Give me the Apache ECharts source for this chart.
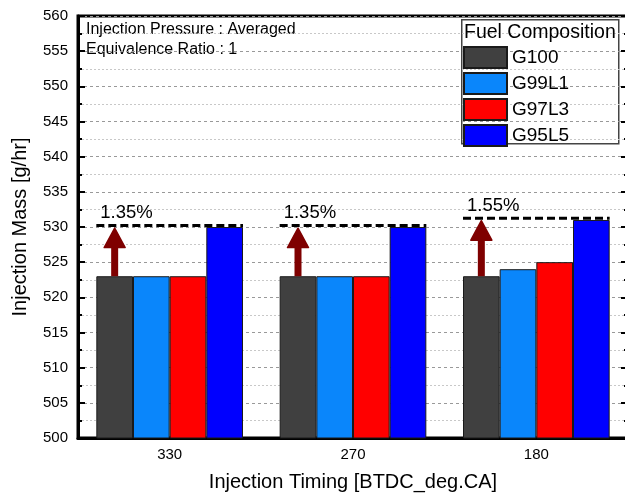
<!DOCTYPE html>
<html>
<head>
<meta charset="utf-8">
<script src="https://cdn.jsdelivr.net/npm/echarts@6/dist/echarts.min.js"></script>
<style>
  html, body { margin: 0; padding: 0; background: #fff; }
  #chart { width: 625px; height: 493px; }
</style>
</head>
<body>
<div id="chart"></div>
<script>
// Injection timing categories (BTDC, deg CA)
const categories = ['330', '270', '180'];

// Injection mass per fuel blend [g/hr]
const g100 = [523, 523, 523];
const g99l1 = [523, 523, 524];
const g97l3 = [523, 523, 525];
const g95l5 = [530, 530, 531];

// Increase of G95L5 relative to G100 [%]
const increasePct = [1.35, 1.35, 1.55];

// Y axis range and tick step
const yMin = 500, yMax = 560, yStep = 5;

const FONT = 'Liberation Sans, Arial, sans-serif';

const seriesNames = ['G100', 'G99L1', 'G97L3', 'G95L5'];
const seriesData = [g100, g99l1, g97l3, g95l5];
const seriesColors = ['#404040', '#0a86fb', '#ff0000', '#0000ff'];

const chart = echarts.init(document.getElementById('chart'), null, { renderer: 'canvas' });

const bars = seriesNames.map((name, k) => ({
  name: name,
  type: 'bar',
  data: seriesData[k],
  barGap: '0%',
  barCategoryGap: '20%',
  itemStyle: { color: seriesColors[k], borderColor: '#1a1a1a', borderWidth: 1 },
  z: 2
}));

// Arrow from G100 bar top to the increased level, with dashed reference line and % label
const arrowData = categories.map((c, i) => [i, g100[i], g100[i] * (1 + increasePct[i] / 100), increasePct[i]]);

const arrowSeries = {
  type: 'custom',
  name: 'increase',
  data: arrowData,
  encode: { x: 0, y: 2 },
  z: 5,
  clip: false,
  silent: true,
  renderItem: function (params, api) {
    const idx = api.value(0);
    const base = api.value(1);
    const target = api.value(2);
    const pct = api.value(3);
    const band = api.size([1, 0])[0];
    const pBase = api.coord([idx, base]);
    const pTop = api.coord([idx, target]);
    const groupLeft = pBase[0] - band * 0.4;
    const barW = band * 0.2;
    const ax = groupLeft + barW / 2;
    const headH = 21, headHalf = 10.5, shaftHalf = 3.5;
    const color = '#7f0000';
    return {
      type: 'group',
      children: [
        {
          type: 'rect',
          shape: { x: ax - shaftHalf, y: pTop[1] + headH - 1, width: shaftHalf * 2, height: pBase[1] - (pTop[1] + headH - 1) },
          style: { fill: color }
        },
        {
          type: 'polygon',
          shape: { points: [[ax - headHalf, pTop[1] + headH], [ax + headHalf, pTop[1] + headH], [ax, pTop[1] + 1.5]] },
          style: { fill: color, stroke: color, lineWidth: 1.5, lineJoin: 'round' }
        },
        {
          type: 'line',
          shape: { x1: groupLeft, y1: pTop[1] - 1, x2: groupLeft + barW * 4, y2: pTop[1] - 1 },
          style: { stroke: '#000', lineWidth: 3, lineDash: [8, 4] }
        },
        {
          type: 'text',
          style: {
            x: groupLeft + 4, y: pTop[1] - 4,
            text: pct.toFixed(2) + '%',
            font: '18.5px ' + FONT,
            fill: '#000',
            textAlign: 'left',
            textVerticalAlign: 'bottom'
          }
        }
      ]
    };
  }
};

const option = {
  animation: false,
  backgroundColor: '#fff',
  grid: {
    left: 78, top: 16, width: 550, height: 422,
    outerBoundsMode: 'none',
    containLabel: false,
    show: true, borderColor: '#000', borderWidth: 3, backgroundColor: 'transparent'
  },
  legend: {
    data: seriesNames,
    orient: 'vertical',
    left: 463, top: 46,
    itemWidth: 43, itemHeight: 21, itemGap: 3,
    padding: 0,
    icon: 'rect',
    textStyle: { fontFamily: FONT, fontSize: 19, color: '#000', padding: [0, 0, 0, 0] },
    selectedMode: false
  },
  xAxis: {
    type: 'category',
    data: categories,
    axisLine: { show: true, lineStyle: { color: '#000', width: 3 } },
    axisTick: { show: false },
    axisLabel: { fontFamily: FONT, fontSize: 15, color: '#000', margin: 9 },
    splitLine: { show: false },
    name: 'Injection Timing [BTDC_deg.CA]',
    nameLocation: 'middle',
    nameGap: 34,
    nameTextStyle: { fontFamily: FONT, fontSize: 20, color: '#000' }
  },
  yAxis: [
    {
      type: 'value',
      min: yMin, max: yMax, interval: yStep,
      axisLine: { show: true, lineStyle: { color: '#000', width: 3 } },
      axisTick: { show: true, inside: true, length: 7, lineStyle: { color: '#000', width: 2 } },
      minorTick: { show: true, splitNumber: 2, length: 4, lineStyle: { color: '#000', width: 2 } },
      axisLabel: { fontFamily: FONT, fontSize: 15, color: '#000', margin: 10 },
      splitLine: { show: true, lineStyle: { color: '#999', width: 1, type: [3, 3] } },
      minorSplitLine: { show: true, lineStyle: { color: '#c8c8c8', width: 1, type: [2, 2] } },
      name: 'Injection Mass [g/hr]',
      nameLocation: 'middle',
      nameGap: 48,
      nameTextStyle: { fontFamily: FONT, fontSize: 20, color: '#000' }
    },
    {
      type: 'value',
      position: 'right',
      min: yMin, max: yMax, interval: yStep,
      axisLine: { show: true, lineStyle: { color: '#000', width: 3 } },
      axisTick: { show: true, inside: true, length: 7, lineStyle: { color: '#000', width: 2 } },
      minorTick: { show: true, splitNumber: 2, length: 4, lineStyle: { color: '#000', width: 2 } },
      axisLabel: { show: false },
      splitLine: { show: false }
    }
  ],
  graphic: [
    {
      type: 'text', left: 86, top: 22,
      style: { text: 'Injection Pressure : Averaged', font: '16px ' + FONT, fill: '#000' }
    },
    {
      type: 'text', left: 86, top: 42,
      style: { text: 'Equivalence Ratio : 1', font: '16px ' + FONT, fill: '#000' }
    },
    {
      type: 'rect', left: 461, top: 19, z: 0,
      shape: { width: 157, height: 124 },
      style: { fill: '#fff', stroke: '#444', lineWidth: 1.5 }
    },
    {
      type: 'text', left: 464, top: 23, z: 1,
      style: { text: 'Fuel Composition', font: '19.5px ' + FONT, fill: '#000' }
    }
  ],
  series: bars.concat([arrowSeries])
};

chart.setOption(option);
</script>
</body>
</html>
